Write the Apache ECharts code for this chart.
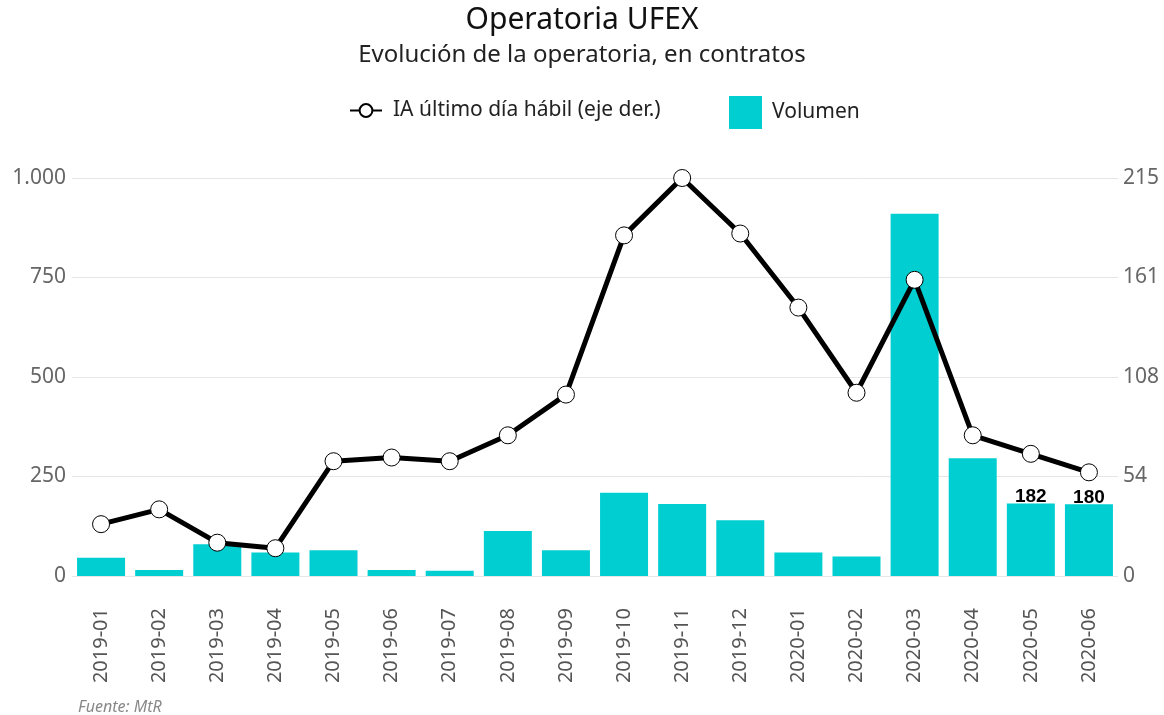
<!DOCTYPE html>
<html>
<head>
<meta charset="utf-8">
<script src="https://cdn.jsdelivr.net/npm/echarts@6/dist/echarts.min.js"></script>
<style>
	html, body { margin: 0; padding: 0; background: #fff; }
	#chart { width: 1164px; height: 715px; }
</style>
</head>
<body>
<div id="chart"></div>
<script>
var meses = ['2019-01', '2019-02', '2019-03', '2019-04', '2019-05', '2019-06', '2019-07', '2019-08', '2019-09',
	'2019-10', '2019-11', '2019-12', '2020-01', '2020-02', '2020-03', '2020-04', '2020-05', '2020-06'];
var volumen = [46, 15, 80, 59, 65, 15, 13, 113, 65, 209, 181, 140, 59, 49, 910, 296, 182, 180];
var interesAbierto = [28, 36, 18, 15, 62, 64, 62, 76, 98, 184, 215, 185, 145, 99, 160, 76, 66, 56];
var ejeIzq = [0, 250, 500, 750, 1000];
var ejeDer = [0, 54, 108, 161, 215];
var conEtiqueta = ['2020-05', '2020-06'];

var fuente = '"Noto Sans", "Open Sans", sans-serif';

var chart = echarts.init(document.getElementById('chart'));

// solo las dos ultimas barras llevan etiqueta
var datosVolumen = volumen.map(function(v, i) {
	var item = { value: v };
	if (conEtiqueta.indexOf(meses[i]) >= 0) {
		item.label = { show: true };
	}
	return item;
});

chart.setOption({
	backgroundColor: '#fff',
	animation: false,
	textStyle: { fontFamily: fuente },
	title: [{
		text: 'Operatoria UFEX',
		left: 'center',
		top: 0,
		textStyle: { fontSize: 30, fontWeight: 'normal', color: '#111', fontFamily: fuente }
	}, {
		text: 'Evolución de la operatoria, en contratos',
		left: 'center',
		top: 38,
		textStyle: { fontSize: 24, fontWeight: 'normal', color: '#222', fontFamily: fuente }
	}, {
		text: 'Fuente: MtR',
		left: 73,
		top: 694,
		textStyle: { fontSize: 16, fontWeight: 'normal', fontStyle: 'italic', color: '#888', fontFamily: fuente }
	}],
	legend: [{
		data: ['IA último día hábil (eje der.)'],
		left: 344,
		top: 95,
		itemWidth: 32,
		itemHeight: 16,
		itemGap: 10,
		textStyle: { fontSize: 21, color: '#222', fontFamily: fuente, padding: [0, 0, 0, 6] }
	}, {
		data: [{ name: 'Volumen', icon: 'rect' }],
		left: 724,
		top: 91,
		itemWidth: 33,
		itemHeight: 33,
		itemGap: 14,
		textStyle: { fontSize: 21, color: '#222', fontFamily: fuente, padding: [0, 0, 0, 5] }
	}],
	grid: {
		left: 72,
		right: 46,
		top: 178,
		bottom: 139
	},
	xAxis: {
		type: 'category',
		data: meses,
		axisLine: { show: false },
		axisTick: { show: false },
		axisLabel: {
			rotate: 90,
			margin: 32,
			fontSize: 20,
			color: '#555',
			fontFamily: fuente
		}
	},
	yAxis: [{
		type: 'value',
		min: ejeIzq[0],
		max: ejeIzq[ejeIzq.length - 1],
		interval: ejeIzq[1] - ejeIzq[0],
		axisLine: { show: false },
		axisTick: { show: false },
		splitLine: { lineStyle: { color: '#e6e6e6', width: 1 } },
		axisLabel: {
			fontSize: 21,
			color: '#666',
			margin: 6,
			fontFamily: fuente,
			formatter: function(v) {
				return String(v).replace(/\B(?=(\d{3})+(?!\d))/g, '.');
			}
		}
	}, {
		type: 'value',
		min: ejeDer[0],
		max: ejeDer[ejeDer.length - 1],
		interval: ejeDer[ejeDer.length - 1] / 4,
		axisLine: { show: false },
		axisTick: { show: false },
		splitLine: { show: false },
		axisLabel: {
			fontSize: 21,
			color: '#666',
			margin: 5,
			fontFamily: fuente,
			formatter: function(v) {
				return Math.round(v);
			}
		}
	}],
	series: [{
		name: 'Volumen',
		type: 'bar',
		yAxisIndex: 0,
		data: datosVolumen,
		barWidth: 48,
		itemStyle: { color: '#00ced1' },
		label: {
			show: false,
			position: 'top',
			distance: -3,
			fontFamily: 'Arial, "Liberation Sans", sans-serif',
			fontWeight: 'bold',
			fontSize: 19,
			color: '#000'
		},
		z: 2
	}, {
		name: 'IA último día hábil (eje der.)',
		type: 'line',
		yAxisIndex: 1,
		data: interesAbierto,
		symbol: 'circle',
		symbolSize: 17,
		lineStyle: { color: '#000', width: 5 },
		itemStyle: { color: '#fff', borderColor: '#000', borderWidth: 1 },
		z: 3
	}]
});
</script>
</body>
</html>
